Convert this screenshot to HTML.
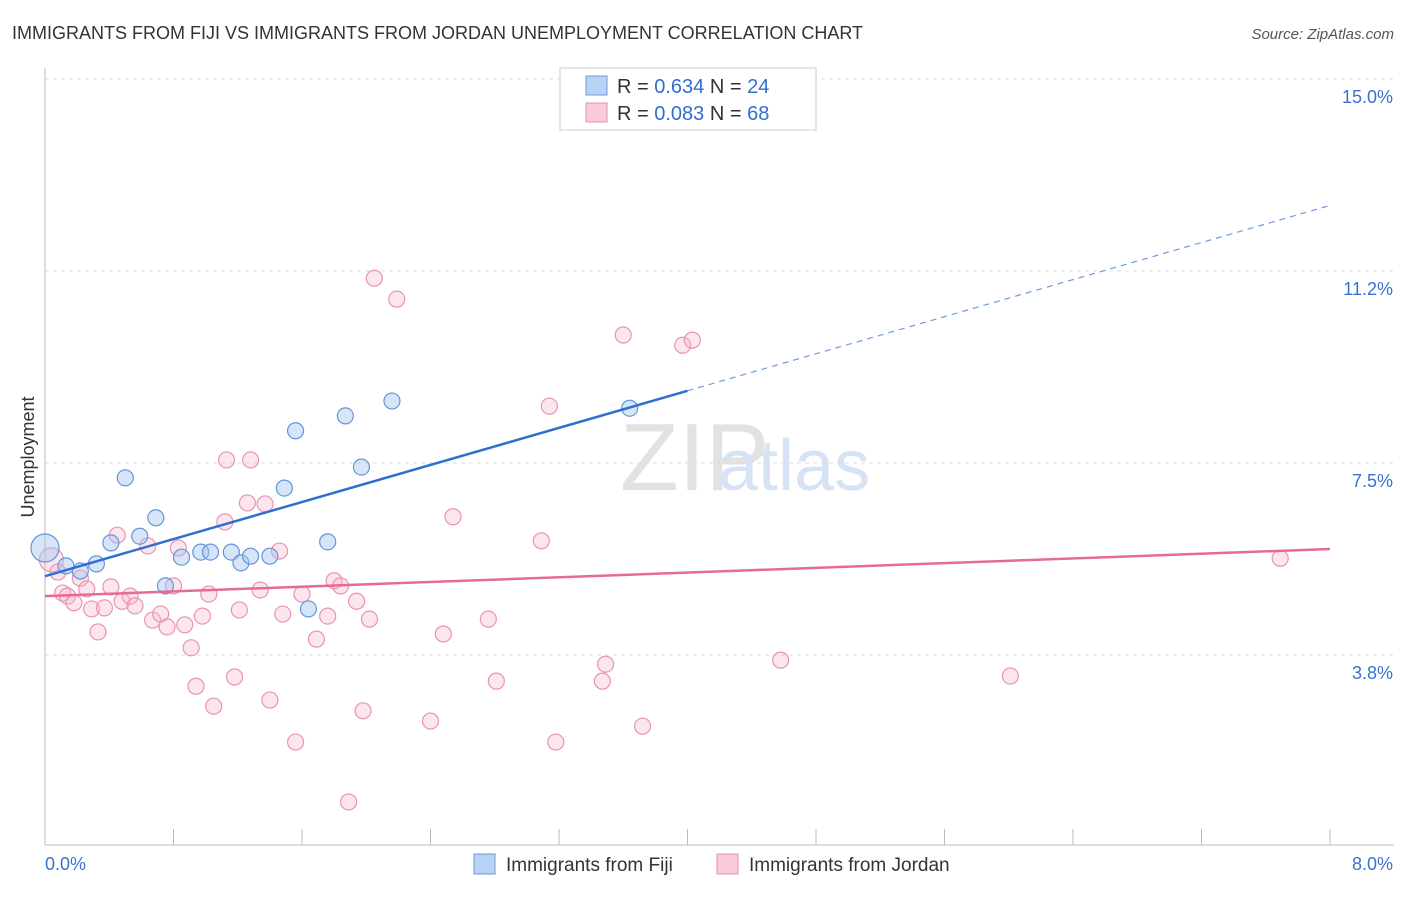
<!DOCTYPE html>
<html><head><meta charset="utf-8"><style>
body{margin:0;background:#fff;font-family:"Liberation Sans",sans-serif;}
svg text{font-family:"Liberation Sans",sans-serif;}
</style></head><body>
<svg id="c" width="1406" height="892">
<text x="12" y="39" font-size="18" fill="#333">IMMIGRANTS FROM FIJI VS IMMIGRANTS FROM JORDAN UNEMPLOYMENT CORRELATION CHART</text>
<text x="1394" y="39" font-size="15" fill="#555" font-style="italic" text-anchor="end">Source: ZipAtlas.com</text>
<text x="34" y="457" font-size="18" fill="#333" text-anchor="middle" transform="rotate(-90 34 457)">Unemployment</text>
<text x="620" y="490" font-size="96" fill="#e2e2e2" font-family="Liberation Serif">ZIP</text>
<text x="718" y="490" font-size="72" fill="#d6e3f5">atlas</text>
<g id="grid"></g><g id="pts"></g><g id="lines"></g>
<g>
<rect x="560" y="68" width="256" height="62" fill="#fff" stroke="#ccc"/>
<rect x="586" y="76" width="21" height="19" fill="#b8d2f3" stroke="#6c9ad8"/>
<text x="617" y="93" font-size="20" fill="#333">R = <tspan fill="#2f6fd1">0.634</tspan>   N = <tspan fill="#2f6fd1">24</tspan></text>
<rect x="586" y="103" width="21" height="19" fill="#f9cad9" stroke="#e88fae"/>
<text x="617" y="120" font-size="20" fill="#333">R = <tspan fill="#2f6fd1">0.083</tspan>   N = <tspan fill="#2f6fd1">68</tspan></text>
</g>
<g>
<rect x="474" y="854" width="21" height="20" fill="#b8d2f3" stroke="#6c9ad8"/>
<text x="506" y="871" font-size="19" fill="#333">Immigrants from Fiji</text>
<rect x="717" y="854" width="21" height="20" fill="#f9cad9" stroke="#e88fae"/>
<text x="749" y="871" font-size="19" fill="#333">Immigrants from Jordan</text>
</g>
</svg>
<script>
const yTicks=[3.75,7.5,11.25,15];
const yTickLabels=["3.8%","7.5%","11.2%","15.0%"];
const xTickLabels=["0.0%","8.0%"];
const fijiX=[0,.13,.22,.32,.41,.50,.59,.69,.75,.85,.97,1.03,1.16,1.22,1.28,1.40,1.49,1.56,1.64,1.76,1.87,1.97,2.16,3.64];
const fijiY=[5.84,5.49,5.39,5.53,5.94,7.21,6.07,6.43,5.10,5.66,5.76,5.76,5.76,5.55,5.68,5.68,7.01,8.13,4.65,5.96,8.42,7.42,8.71,8.57];
const jordanX=[.04,.08,.11,.14,.18,.22,.26,.29,.33,.37,.41,.45,.48,.53,.56,.64,.67,.72,.76,.80,.83,.87,.91,.94,.98,1.02,1.05,1.12,1.13,1.18,1.21,1.26,1.28,1.34,1.37,1.40,1.46,1.48,1.56,1.60,1.69,1.76,1.80,1.84,1.89,1.94,1.98,2.02,2.05,2.19,2.40,2.48,2.54,2.76,2.81,3.09,3.14,3.18,3.47,3.49,3.60,3.72,3.97,4.03,4.58,6.01,7.69];
const jordanY=[5.61,5.37,4.96,4.90,4.77,5.25,5.04,4.65,4.20,4.67,5.08,6.09,4.80,4.90,4.71,5.88,4.43,4.55,4.30,5.10,5.84,4.34,3.89,3.14,4.51,4.94,2.75,6.35,7.56,3.32,4.63,6.72,7.56,5.02,6.70,2.87,5.78,4.55,2.05,4.94,4.06,4.51,5.20,5.10,0.88,4.80,2.66,4.45,11.11,10.70,2.46,4.16,6.45,4.45,3.24,5.98,8.61,2.05,3.24,3.57,10.0,2.36,9.80,9.90,3.65,3.34,5.64];
const fijiTrend=[5.29,8.91];   // values at x=0 and x=4.0
const jordanTrend=[4.90,5.82]; // values at x=0 and x=8.0
const X=v=>45+v/8*1285, Y=v=>847-v*51.2;
const NS="http://www.w3.org/2000/svg";
function mk(p,t,a){const e=document.createElementNS(NS,t);for(const k in a)e.setAttribute(k,a[k]);p.appendChild(e);return e;}
const grid=document.getElementById('grid');
yTicks.forEach((t,i)=>{
 const l=mk(grid,'line',{x1:45,x2:1394,y1:Y(t),y2:Y(t),stroke:'#ddd','stroke-dasharray':'4 4'});
 
 
 const tx=mk(grid,'text',{x:1393,y:Y(t)+24,'font-size':18,fill:'#3a72cf','text-anchor':'end'});
 tx.textContent=yTickLabels[i];
 
 
});
const ax=mk(grid,'line',{x1:45,x2:1394,y1:845,y2:845,stroke:'#bbb'});


const yax=mk(grid,'line',{x1:45,x2:45,y1:68,y2:845,stroke:'#bbb'});


for(let i=1;i<=10;i++){
 const t=mk(grid,'line',{x1:X(i*0.8),x2:X(i*0.8),y1:829,y2:845,stroke:'#bbb'});
 
 
}
[[0,'start',45],[8,'end',1393]].forEach((d,i)=>{
 const tx=mk(grid,'text',{x:d[2],y:870,'font-size':18,fill:'#3a72cf','text-anchor':d[1]});
 tx.textContent=xTickLabels[i];
 
 
});
const pts=document.getElementById('pts');
jordanX.forEach((x,i)=>{
 const c=mk(pts,'circle',{cx:X(x),cy:Y(jordanY[i]),r:i==0?12:8,fill:'rgba(246,182,203,0.35)',stroke:'#e993b2','stroke-width':1.2});
 
 
});
fijiX.forEach((x,i)=>{
 const c=mk(pts,'circle',{cx:X(x),cy:Y(fijiY[i]),r:i==0?14:8,fill:'rgba(165,198,240,0.45)',stroke:'#6495d8','stroke-width':1.2});
 
 
});
const lines=document.getElementById('lines');
const s=(fijiTrend[1]-fijiTrend[0])/4;
const f1=mk(lines,'line',{x1:X(0),y1:Y(fijiTrend[0]),x2:X(4),y2:Y(fijiTrend[1]),stroke:'#2f6fd1','stroke-width':2.5});


const f2=mk(lines,'line',{x1:X(4),y1:Y(fijiTrend[1]),x2:X(8),y2:Y(fijiTrend[0]+s*8),stroke:'#6f9bdc','stroke-width':1.2,'stroke-dasharray':'6 5'});


const j=mk(lines,'line',{x1:X(0),y1:Y(jordanTrend[0]),x2:X(8),y2:Y(jordanTrend[1]),stroke:'#e56a98','stroke-width':2.5});


</script>
</body></html>
